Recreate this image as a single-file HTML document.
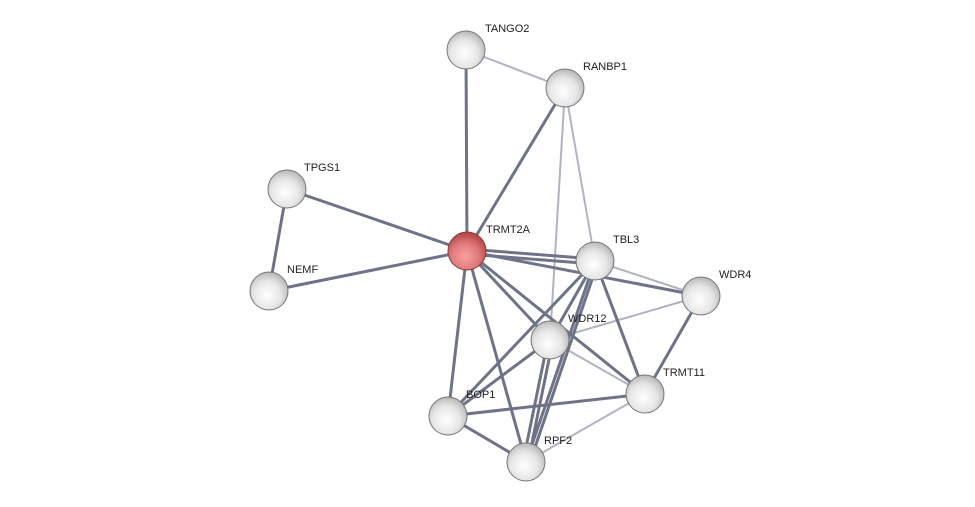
<!DOCTYPE html>
<html><head><meta charset="utf-8"><style>html,body{margin:0;padding:0;background:#fff;}svg{display:block;}</style></head><body>
<svg width="975" height="507" viewBox="0 0 975 507" xmlns="http://www.w3.org/2000/svg">
<defs>
<radialGradient id="g" cx="0.45" cy="0.6" r="0.6">
<stop offset="0" stop-color="#ffffff"/><stop offset="0.6" stop-color="#e6e6e6"/><stop offset="1" stop-color="#b8b8b8"/></radialGradient>
<radialGradient id="r" cx="0.45" cy="0.65" r="0.6">
<stop offset="0" stop-color="#f7a0a0"/><stop offset="0.6" stop-color="#e07a7a"/><stop offset="1" stop-color="#b84a4a"/></radialGradient>
<linearGradient id="h" x1="0" y1="0" x2="0" y2="1"><stop offset="0" stop-color="#fff" stop-opacity="0.9"/><stop offset="1" stop-color="#fff" stop-opacity="0"/></linearGradient>
</defs>
<g stroke-linecap="round">
<g stroke="#b0b4c0" stroke-width="2">
<line x1="466" y1="50" x2="565" y2="88"/><line x1="565" y1="88" x2="550" y2="340"/><line x1="565" y1="88" x2="595" y2="261"/>
<line x1="595" y1="261" x2="701" y2="296"/><line x1="701" y1="296" x2="550" y2="340"/><line x1="550" y1="340" x2="645" y2="394"/><line x1="526" y1="462" x2="645" y2="394"/>
</g>
<g stroke="#6e7388" stroke-width="3">
<line x1="466" y1="50" x2="467" y2="251"/><line x1="565" y1="88" x2="467" y2="251"/>
<line x1="287" y1="189" x2="269" y2="291"/><line x1="287" y1="189" x2="467" y2="251"/><line x1="269" y1="291" x2="467" y2="251"/>
<line x1="467" y1="249" x2="595" y2="259"/><line x1="467" y1="254" x2="595" y2="264"/>
<line x1="467" y1="251" x2="701" y2="296"/><line x1="467" y1="251" x2="550" y2="340"/><line x1="467" y1="251" x2="645" y2="394"/>
<line x1="467" y1="251" x2="448" y2="416"/><line x1="467" y1="251" x2="526" y2="462"/>
<line x1="595" y1="261" x2="550" y2="340"/><line x1="595" y1="261" x2="645" y2="394"/><line x1="595" y1="261" x2="448" y2="416"/>
<line x1="595" y1="261" x2="526" y2="462"/><line x1="598" y1="262" x2="530" y2="462"/>
<line x1="701" y1="296" x2="645" y2="394"/><line x1="550" y1="340" x2="448" y2="416"/>
<line x1="548" y1="340" x2="523" y2="462"/><line x1="553" y1="340" x2="528" y2="462"/>
<line x1="448" y1="416" x2="645" y2="394"/><line x1="448" y1="416" x2="526" y2="462"/>
</g>
</g>
<g font-family="Liberation Sans, sans-serif" font-size="11" fill="#222">
<g id="nodes">
<circle cx="466" cy="50" r="19" fill="url(#g)" stroke="#777" stroke-width="1"/>
<circle cx="565" cy="88" r="19" fill="url(#g)" stroke="#777"/>
<circle cx="287" cy="189" r="19" fill="url(#g)" stroke="#777"/>
<circle cx="269" cy="291" r="19" fill="url(#g)" stroke="#777"/>
<circle cx="467" cy="251" r="19" fill="url(#r)" stroke="#8a3a3a"/>
<circle cx="595" cy="261" r="19" fill="url(#g)" stroke="#777"/>
<circle cx="701" cy="296" r="19" fill="url(#g)" stroke="#777"/>
<circle cx="550" cy="340" r="19" fill="url(#g)" stroke="#777"/>
<circle cx="645" cy="394" r="19" fill="url(#g)" stroke="#777"/>
<circle cx="448" cy="416" r="19" fill="url(#g)" stroke="#777"/>
<circle cx="526" cy="462" r="19" fill="url(#g)" stroke="#777"/>
</g>
<text x="485" y="32">TANGO2</text>
<text x="583" y="70">RANBP1</text>
<text x="304" y="171">TPGS1</text>
<text x="287" y="273">NEMF</text>
<text x="486" y="233">TRMT2A</text>
<text x="613" y="243">TBL3</text>
<text x="719" y="278">WDR4</text>
<text x="568" y="322">WDR12</text>
<text x="663" y="376">TRMT11</text>
<text x="466" y="398">BOP1</text>
<text x="544" y="444">RPF2</text>
</g>
</svg>
</body></html>
